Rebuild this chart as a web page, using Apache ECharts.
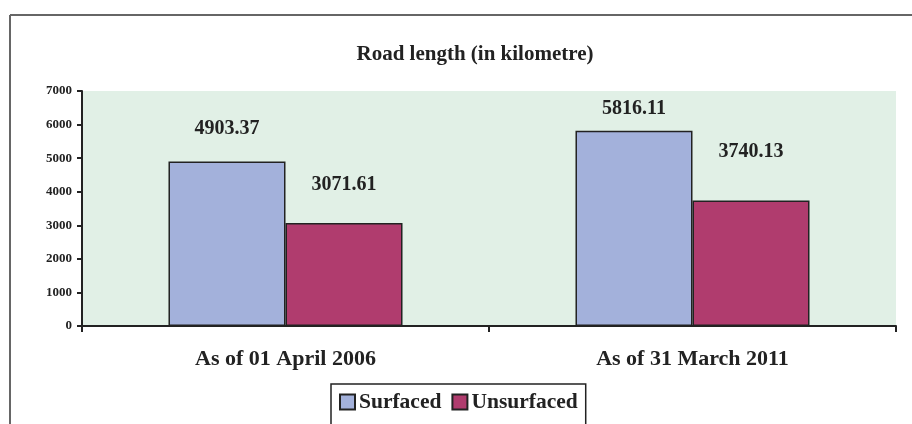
<!DOCTYPE html>
<html>
<head>
<meta charset="utf-8">
<script src="https://cdn.jsdelivr.net/npm/echarts@6/dist/echarts.min.js"></script>
<style>
  html, body { margin: 0; padding: 0; background: #fff; }
  #chart { width: 912px; height: 424px; }
</style>
</head>
<body>
<div id="chart"></div>
<script>
var categories = ["As of 01 April 2006", "As of 31 March 2011"]
var surfaced = [4903.37, 5816.11]
var unsurfaced = [3071.61, 3740.13]
var yTicks = [0, 1000, 2000, 3000, 4000, 5000, 6000, 7000]

// label gaps above bars, as placed in the original
var surfacedGap = [23, 12]
var unsurfacedGap = [28, 39]

var serif = "'Liberation Serif', 'DejaVu Serif', serif"

function withGap(values, gaps) {
    return values.map(function (v, i) {
        return { value: v, label: { distance: gaps[i] } }
    })
}

var chart = echarts.init(document.getElementById("chart"))
chart.setOption({
    animation: false,
    title: {
        text: "Road length (in kilometre)",
        left: 470,
        top: 39,
        textAlign: "center",
        textStyle: { fontFamily: serif, fontWeight: "bold", fontSize: 21, color: "#222" }
    },
    legend: {
        data: ["Surfaced", "Unsurfaced"],
        left: 331,
        top: 384,
        padding: [7, 8, 14, 8],
        itemGap: 10,
        itemWidth: 15,
        itemHeight: 15,
        borderColor: "#222",
        borderWidth: 1.5,
        borderRadius: 0,
        icon: "rect",
        textStyle: { fontFamily: serif, fontWeight: "bold", fontSize: 21.5, color: "#222", padding: [0, 0, 0, -1] }
    },
    grid: { left: 82, right: 16, top: 91, bottom: 98, containLabel: false,
        show: true, backgroundColor: "#e1f0e6", borderWidth: 0 },
    xAxis: {
        type: "category",
        data: categories,
        axisLine: { lineStyle: { color: "#222", width: 2 } },
        axisTick: { show: true, length: 6, lineStyle: { color: "#222", width: 2 } },
        axisLabel: { fontFamily: serif, fontWeight: "bold", fontSize: 22, color: "#222", margin: 22 }
    },
    yAxis: {
        type: "value",
        min: yTicks[0],
        max: yTicks[yTicks.length - 1],
        interval: 1000,
        axisLine: { show: true, lineStyle: { color: "#222", width: 2 } },
        axisTick: { show: true, length: 5, lineStyle: { color: "#222", width: 2 } },
        splitLine: { show: false },
        axisLabel: { fontFamily: serif, fontWeight: "bold", fontSize: 13, color: "#222", margin: 10,
            formatter: function (v) { return String(v) } }
    },
    series: [
        {
            name: "Surfaced",
            type: "bar",
            data: withGap(surfaced, surfacedGap),
            barGap: "0%",
            barCategoryGap: "42.5%",
            itemStyle: { color: "#a3b1db", borderColor: "#222", borderWidth: 1.5 },
            label: { show: true, position: "top", fontFamily: serif, fontWeight: "bold", fontSize: 20, color: "#222" }
        },
        {
            name: "Unsurfaced",
            type: "bar",
            data: withGap(unsurfaced, unsurfacedGap),
            barGap: "0%",
            barCategoryGap: "42.5%",
            itemStyle: { color: "#b03c6e", borderColor: "#222", borderWidth: 1.5 },
            label: { show: true, position: "top", fontFamily: serif, fontWeight: "bold", fontSize: 20, color: "#222" }
        }
    ],
    graphic: [
        { type: "line", shape: { x1: 10, y1: 15, x2: 912, y2: 15 }, style: { stroke: "#666", lineWidth: 2 } },
        { type: "line", shape: { x1: 10, y1: 15, x2: 10, y2: 424 }, style: { stroke: "#666", lineWidth: 2 } }
    ]
})
</script>
</body>
</html>
